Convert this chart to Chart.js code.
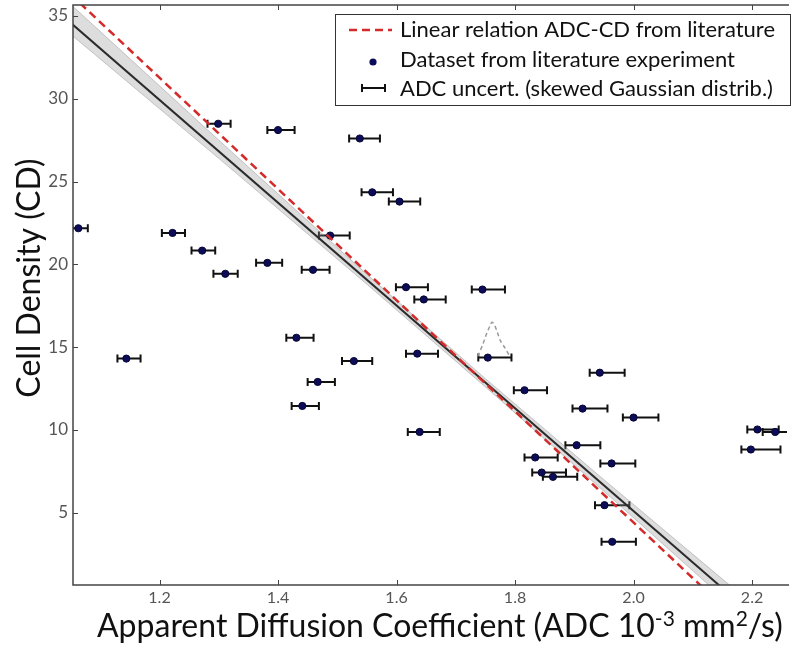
<!DOCTYPE html>
<html>
<head>
<meta charset="utf-8">
<script src="https://cdn.jsdelivr.net/npm/chart.js@4.4.1/dist/chart.umd.min.js"></script>
<style>
  html, body { margin: 0; padding: 0; background: #fff; }
  #wrap { width: 792px; height: 646px; position: relative; }
</style>
</head>
<body>
<div id="wrap"><canvas id="adcChart"></canvas></div>
<script>
const FONT = "Lato, 'Open Sans', sans-serif";

// Dataset from literature experiment (ADC, CD) with ADC uncertainty range
const adcValues = [1.144, 1.063, 1.222, 1.272, 1.311, 1.382, 1.459, 1.488, 1.299, 1.400,
                   1.538, 1.559, 1.605, 1.616, 1.646, 1.745, 1.431, 1.528, 1.467, 1.441,
                   1.635, 1.639, 1.754, 1.943, 1.816, 1.914, 2.000, 2.209, 2.239, 2.198,
                   1.904, 1.834, 1.963, 1.845, 1.864, 1.951, 1.964];
const cdValues = [14.31, 22.18, 21.90, 20.83, 19.43, 20.09, 19.67, 21.74, 28.49, 28.11,
                  27.60, 24.35, 23.79, 18.62, 17.88, 18.48, 15.57, 14.16, 12.90, 11.45,
                  14.61, 9.88, 14.37, 13.46, 12.40, 11.29, 10.75, 10.03, 9.88, 8.82,
                  9.08, 8.34, 7.98, 7.43, 7.17, 5.46, 3.25];
const adcLow = [1.129, 1.053, 1.204, 1.254, 1.291, 1.363, 1.440, 1.469, 1.281, 1.382,
                1.520, 1.541, 1.587, 1.599, 1.630, 1.727, 1.414, 1.508, 1.450, 1.423,
                1.616, 1.619, 1.738, 1.926, 1.798, 1.897, 1.982, 2.192, 2.218, 2.182,
                1.885, 1.816, 1.944, 1.829, 1.847, 1.935, 1.946];
const adcHigh = [1.168, 1.079, 1.243, 1.294, 1.332, 1.407, 1.487, 1.521, 1.320, 1.428,
                 1.572, 1.594, 1.640, 1.653, 1.683, 1.783, 1.460, 1.559, 1.496, 1.469,
                 1.670, 1.673, 1.794, 1.985, 1.854, 1.956, 2.042, 2.245, 2.280, 2.248,
                 1.944, 1.872, 2.003, 1.886, 1.905, 1.993, 2.004];

// Linear relation from literature (red dashed)
const litADC = [1.05, 2.2];
const litCD = [36.3, -2.3];

// Fitted relation (black) and its uncertainty band
const fitADC = [1.05, 2.2];
const fitCD = [34.58, -1.10];
const bandADC = [1.05, 1.3, 1.55, 1.75, 1.95, 2.2];
const bandUpper = [35.7, 27.5, 19.4, 13.1, 7.0, -0.5];
const bandLower = [33.9, 26.4, 18.8, 12.6, 6.3, -1.7];

// Skewed Gaussian sketch above one data point
const gaussADC = [1.737, 1.745, 1.752, 1.758, 1.761, 1.765, 1.770, 1.775, 1.782, 1.790];
const gaussCD = [14.45, 15.11, 15.81, 16.31, 16.51, 16.37, 15.91, 15.41, 15.01, 14.52];

const xTicks = [1.2, 1.4, 1.6, 1.8, 2.0, 2.2];
const yTicks = [5, 10, 15, 20, 25, 30, 35];
const legendLabels = [
    'Linear relation ADC-CD from literature',
    'Dataset from literature experiment',
    'ADC uncert. (skewed Gaussian distrib.)'
];

const POINT_COLOR = '#0c0c58';
const RED = '#d42a2a';

const toXY = (xs, ys) => xs.map((v, i) => ({ x: v, y: ys[i] }));

const errorBars = {
    id: 'errorBars',
    beforeDatasetsDraw(chart) {
        const { ctx, chartArea: a, scales: { x, y } } = chart;
        ctx.save();
        ctx.beginPath();
        ctx.rect(a.left, a.top, a.width, a.height);
        ctx.clip();
        ctx.strokeStyle = '#111';
        ctx.lineWidth = 2;
        ctx.beginPath();
        cdValues.forEach((cd, i) => {
            const py = y.getPixelForValue(cd);
            const x0 = x.getPixelForValue(adcLow[i]);
            const x1 = x.getPixelForValue(adcHigh[i]);
            ctx.moveTo(x0, py); ctx.lineTo(x1, py);
            ctx.moveTo(x0, py - 4); ctx.lineTo(x0, py + 4);
            ctx.moveTo(x1, py - 4); ctx.lineTo(x1, py + 4);
        });
        ctx.stroke();
        ctx.restore();
    }
};

const frameAndTicks = {
    id: 'frameAndTicks',
    afterDatasetsDraw(chart) {
        const { ctx, chartArea: a, scales: { x, y } } = chart;
        ctx.save();
        ctx.strokeStyle = '#444';
        ctx.lineWidth = 1.5;
        ctx.beginPath();
        ctx.moveTo(a.right + 2, a.top);
        ctx.lineTo(a.left, a.top);
        ctx.lineTo(a.left, a.bottom);
        ctx.lineTo(a.right + 2, a.bottom);
        ctx.stroke();
        ctx.lineWidth = 1;
        ctx.beginPath();
        xTicks.forEach(v => {
            const px = Math.round(x.getPixelForValue(v)) + 0.5;
            ctx.moveTo(px, a.bottom); ctx.lineTo(px, a.bottom - 5);
            ctx.moveTo(px, a.top); ctx.lineTo(px, a.top + 5);
        });
        yTicks.forEach(v => {
            const py = Math.round(y.getPixelForValue(v)) + 0.5;
            ctx.moveTo(a.left, py); ctx.lineTo(a.left + 5, py);
        });
        ctx.stroke();
        ctx.restore();
    }
};

const legendBox = {
    id: 'legendBox',
    afterDraw(chart) {
        const ctx = chart.ctx;
        const left = 335, top = 14, width = 455, height = 91;
        ctx.save();
        ctx.fillStyle = '#fff';
        ctx.fillRect(left, top, width, height);
        ctx.strokeStyle = '#333';
        ctx.lineWidth = 1;
        ctx.strokeRect(left + 0.5, top + 0.5, width, height);

        // red dashed sample
        ctx.strokeStyle = RED;
        ctx.lineWidth = 2.5;
        ctx.setLineDash([8, 5]);
        ctx.beginPath();
        ctx.moveTo(349, 30); ctx.lineTo(392, 30);
        ctx.stroke();
        ctx.setLineDash([]);

        // dot sample
        ctx.fillStyle = POINT_COLOR;
        ctx.beginPath();
        ctx.arc(373, 62, 3.6, 0, Math.PI * 2);
        ctx.fill();

        // error bar sample
        ctx.strokeStyle = '#111';
        ctx.lineWidth = 2;
        ctx.beginPath();
        ctx.moveTo(362, 88); ctx.lineTo(385, 88);
        ctx.moveTo(362, 84); ctx.lineTo(362, 92);
        ctx.moveTo(385, 84); ctx.lineTo(385, 92);
        ctx.stroke();

        ctx.fillStyle = '#111';
        ctx.font = `22px ${FONT}`;
        ctx.textBaseline = 'alphabetic';
        ctx.textAlign = 'left';
        ctx.fillText(legendLabels[0], 400, 37);
        ctx.fillText(legendLabels[1], 400, 67);
        ctx.fillText(legendLabels[2], 400, 96);
        ctx.restore();
    }
};

const axisTitles = {
    id: 'axisTitles',
    afterDraw(chart) {
        const ctx = chart.ctx;
        ctx.save();
        ctx.fillStyle = '#111';
        ctx.textBaseline = 'alphabetic';

        // x title with superscripts
        const parts = [
            ['Apparent Diffusion Coefficient (ADC 10', false],
            ['-3', true],
            [' mm', false],
            ['2', true],
            ['/s)', false]
        ];
        let px = 97;
        parts.forEach(([txt, sup]) => {
            ctx.font = sup ? `21px ${FONT}` : `32px ${FONT}`;
            ctx.fillText(txt, px, sup ? 626 : 637);
            px += ctx.measureText(txt).width;
        });

        // y title
        ctx.translate(40, 278);
        ctx.rotate(-Math.PI / 2);
        ctx.font = `32px ${FONT}`;
        ctx.textAlign = 'center';
        ctx.fillText('Cell Density (CD)', 0, 0);
        ctx.restore();
    }
};

new Chart(document.getElementById('adcChart'), {
    type: 'scatter',
    data: {
        datasets: [
            {
                label: legendLabels[0],
                data: toXY(litADC, litCD),
                showLine: true,
                borderColor: RED,
                borderWidth: 2.5,
                borderDash: [8, 5],
                pointRadius: 0
            },
            {
                label: 'fit',
                data: toXY(fitADC, fitCD),
                showLine: true,
                borderColor: '#2b2b2b',
                borderWidth: 2,
                pointRadius: 0
            },
            {
                label: 'band upper',
                data: toXY(bandADC, bandUpper),
                showLine: true,
                borderColor: 'rgba(110,110,110,0.35)',
                borderWidth: 1,
                pointRadius: 0,
                fill: '+1',
                backgroundColor: 'rgba(150,150,150,0.32)'
            },
            {
                label: 'band lower',
                data: toXY(bandADC, bandLower),
                showLine: true,
                borderColor: 'rgba(110,110,110,0.35)',
                borderWidth: 1,
                pointRadius: 0
            },
            {
                label: 'gaussian',
                data: toXY(gaussADC, gaussCD),
                showLine: true,
                borderColor: '#9a9a9a',
                borderWidth: 1.5,
                borderDash: [4, 3],
                tension: 0.3,
                pointRadius: 0
            },
            {
                label: legendLabels[1],
                data: toXY(adcValues, cdValues),
                pointRadius: 3.6,
                pointBackgroundColor: POINT_COLOR,
                pointBorderColor: '#060630',
                pointBorderWidth: 1
            }
        ]
    },
    options: {
        responsive: true,
        maintainAspectRatio: false,
        animation: false,
        layout: { padding: { top: 4, right: 0, left: 0, bottom: 0 } },
        plugins: { legend: { display: false }, tooltip: { enabled: false } },
        scales: {
            x: {
                type: 'linear',
                min: 1.054,
                max: 2.259,
                grid: { display: false, drawTicks: false },
                border: { display: false },
                afterFit: s => { s.height = 61; s.paddingLeft = 0; s.paddingRight = 0; },
                afterBuildTicks: s => { s.ticks = xTicks.map(v => ({ value: v })); },
                ticks: {
                    font: { family: FONT, size: 16 },
                    color: '#555',
                    padding: 3,
                    maxRotation: 0,
                    callback: v => v.toFixed(1)
                }
            },
            y: {
                type: 'linear',
                min: 0.64,
                max: 35.66,
                grid: { display: false, drawTicks: false },
                border: { display: false },
                afterFit: s => { s.width = 73; s.paddingTop = 0; s.paddingBottom = 0; },
                afterBuildTicks: s => { s.ticks = yTicks.map(v => ({ value: v })); },
                ticks: {
                    font: { family: FONT, size: 17 },
                    color: '#555',
                    padding: 5,
                    callback: v => String(v)
                }
            }
        }
    },
    plugins: [errorBars, frameAndTicks, legendBox, axisTitles]
});
</script>
</body>
</html>
